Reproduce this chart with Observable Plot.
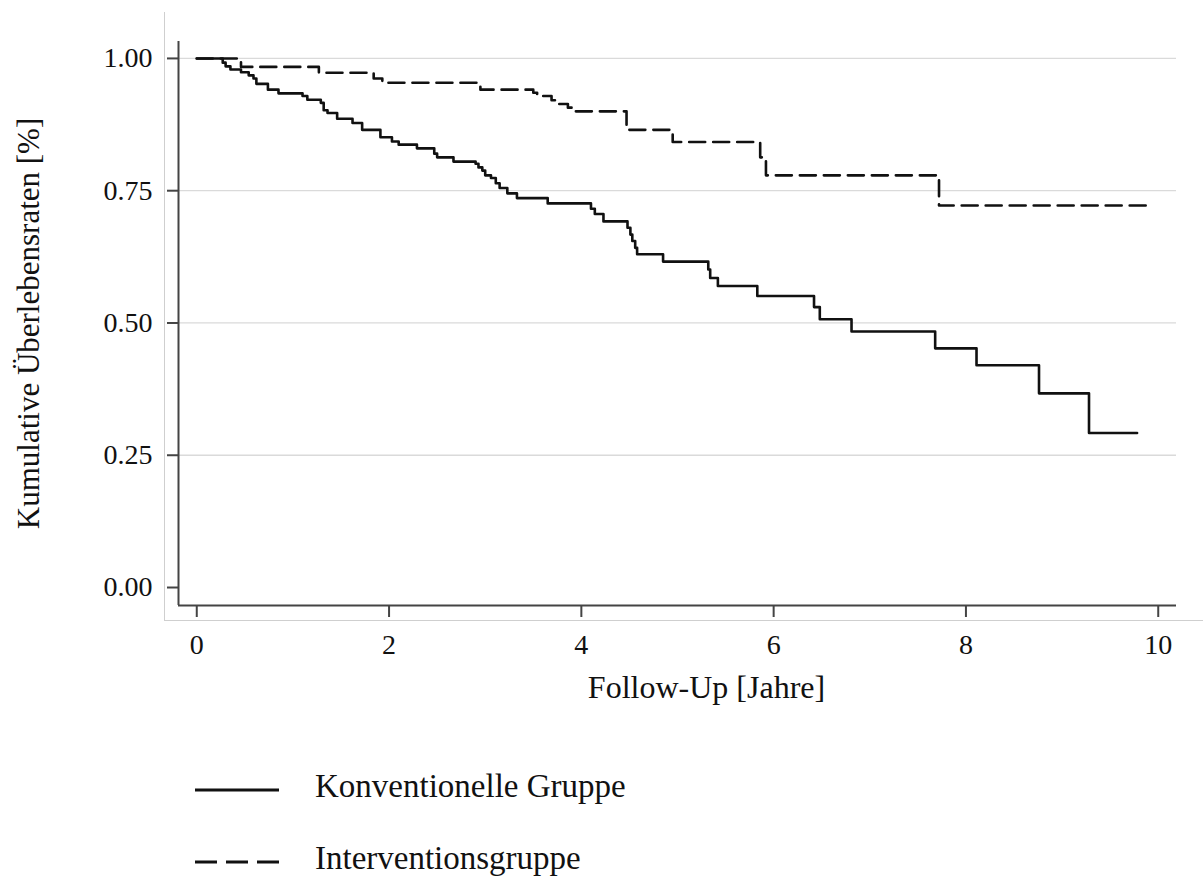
<!DOCTYPE html>
<html>
<head>
<meta charset="utf-8">
<script src="https://cdn.jsdelivr.net/npm/d3@7"></script>
<script src="https://cdn.jsdelivr.net/npm/@observablehq/plot@0.6"></script>
<style>
  html, body { margin: 0; padding: 0; background: #fff; }
  #wrap { position: relative; width: 1203px; height: 885px; font-family: "Liberation Serif", "Times New Roman", serif; color: #111; }
  #panel { position: absolute; left: 164px; top: 12px; width: 1039px; height: 608px; border-left: 1.5px solid #cfcfcf; border-bottom: 1.5px solid #cfcfcf; pointer-events: none; }
  #legend { position: relative; height: 165px; }
  .lg-line { position: absolute; left: 195px; }
  .lg-text { position: absolute; left: 315px; font-size: 33px; line-height: 40px; white-space: nowrap; }
</style>
</head>
<body>
<div id="wrap">
  <div id="chart"></div>
  <div id="legend"></div>
  <div id="panel"></div>
</div>
<script>
// Kaplan-Meier estimates
const konvTime = [0, 0.27, 0.30, 0.35, 0.46, 0.54, 0.59, 0.62, 0.74, 0.85, 1.10, 1.15, 1.29, 1.32, 1.36, 1.46, 1.62, 1.72, 1.91, 2.03, 2.10, 2.29, 2.47, 2.50, 2.67, 2.90, 2.93, 2.97, 3.00, 3.06, 3.11, 3.15, 3.23, 3.33, 3.65, 4.10, 4.14, 4.23, 4.48, 4.51, 4.53, 4.56, 4.58, 4.85, 5.32, 5.34, 5.42, 5.83, 6.42, 6.48, 6.81, 7.68, 8.11, 8.76, 9.28, 9.78];
const konvSurv = [1.0, 0.992, 0.985, 0.979, 0.974, 0.968, 0.962, 0.952, 0.941, 0.934, 0.929, 0.922, 0.916, 0.902, 0.897, 0.886, 0.878, 0.865, 0.851, 0.843, 0.837, 0.830, 0.820, 0.813, 0.805, 0.801, 0.794, 0.788, 0.779, 0.774, 0.764, 0.755, 0.745, 0.736, 0.726, 0.716, 0.706, 0.692, 0.680, 0.667, 0.655, 0.642, 0.630, 0.616, 0.601, 0.585, 0.570, 0.551, 0.530, 0.507, 0.484, 0.452, 0.420, 0.367, 0.292, 0.292];

const intTime = [0, 0.46, 1.27, 1.84, 1.93, 2.95, 3.50, 3.54, 3.69, 3.74, 3.86, 3.90, 4.47, 4.95, 5.86, 5.92, 7.72, 9.93];
const intSurv = [1.0, 0.984, 0.973, 0.962, 0.954, 0.941, 0.935, 0.929, 0.921, 0.914, 0.907, 0.900, 0.865, 0.842, 0.813, 0.779, 0.722, 0.722];

const xTicks = [0, 2, 4, 6, 8, 10];
const yTicks = [0, 0.25, 0.5, 0.75, 1];
const gridTicks = [0.25, 0.5, 0.75, 1];
const seriesNames = ["Konventionelle Gruppe", "Interventionsgruppe"];
const xTitle = "Follow-Up [Jahre]";
const yTitle = "Kumulative Überlebensraten [%]";

const xDomain = [-0.19, 10.19];
const yDomain = [-0.034, 1.032];

const konv = konvTime.map((t, i) => ({t, s: konvSurv[i]}));
const inter = intTime.map((t, i) => ({t, s: intSurv[i]}));

const axisColor = "#444";
const lineColor = "#111";

const chart = Plot.plot({
  width: 1203,
  height: 720,
  marginLeft: 178,
  marginRight: 27,
  marginTop: 41,
  marginBottom: 115,
  x: {domain: xDomain},
  y: {domain: yDomain},
  style: {fontFamily: "'Liberation Serif', 'Times New Roman', serif", fontSize: "28px", color: "#111", background: "transparent"},
  marks: [
    Plot.gridY(gridTicks, {stroke: "#dadada", strokeOpacity: 1, strokeWidth: 1.3}),
    Plot.ruleX([xDomain[0]], {y1: yDomain[0], y2: yDomain[1], stroke: axisColor, strokeWidth: 2}),
    Plot.ruleY([yDomain[0]], {x1: xDomain[0], x2: xDomain[1], stroke: axisColor, strokeWidth: 2}),
    Plot.axisY(yTicks, {tickSize: 11, tickPadding: 15, tickFormat: d3.format(".2f"), stroke: axisColor, strokeWidth: 2, label: null, fontSize: 28}),
    Plot.axisX(xTicks, {tickSize: 12, tickPadding: 17, tickFormat: d => String(d), stroke: axisColor, strokeWidth: 2, label: null, fontSize: 28}),
    Plot.line(konv, {x: "t", y: "s", curve: "step-after", stroke: lineColor, strokeWidth: 2.6}),
    Plot.line(inter, {x: "t", y: "s", curve: "step-after", stroke: lineColor, strokeWidth: 2.6, strokeDasharray: "16,8"}),
    Plot.text([xTitle], {frameAnchor: "bottom", textAnchor: "middle", dx: 29, dy: 92, fontSize: 32, fill: "#111"}),
    Plot.text([yTitle], {frameAnchor: "left", textAnchor: "middle", lineAnchor: "middle", rotate: -90, dx: -149, fontSize: 31, fill: "#111"})
  ]
});
document.getElementById("chart").appendChild(chart);

// legend below the chart
const legend = document.getElementById("legend");
const rows = [
  {name: seriesNames[0], dash: null, lineTop: 65, textTop: 46},
  {name: seriesNames[1], dash: "22,9", lineTop: 137, textTop: 118}
];
rows.forEach(r => {
  const svg = d3.create("svg").attr("class", "lg-line").attr("width", 90).attr("height", 10)
    .style("top", r.lineTop + "px");
  svg.append("line").attr("x1", 0).attr("x2", 84).attr("y1", 5).attr("y2", 5)
    .attr("stroke", lineColor).attr("stroke-width", 2.8)
    .attr("stroke-dasharray", r.dash);
  legend.appendChild(svg.node());
  const span = document.createElement("div");
  span.className = "lg-text";
  span.style.top = r.textTop + "px";
  span.textContent = r.name;
  legend.appendChild(span);
});
</script>
</body>
</html>
